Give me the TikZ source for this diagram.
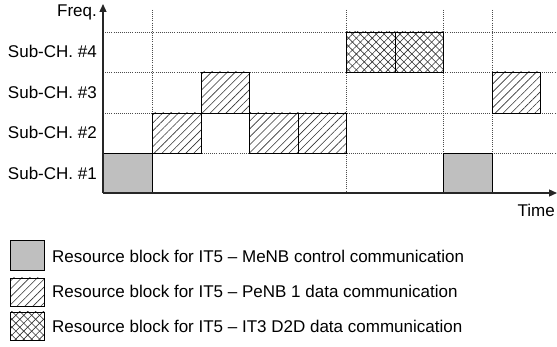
\documentclass[tikz,border=0pt]{standalone}
\usepackage{fontspec}
\setmainfont{Liberation Sans}
\usetikzlibrary{arrows.meta,patterns.meta}
\tikzset{
  lbl/.style={inner sep=0pt, font=\fontsize{17}{20}\selectfont},
  grid/.style={draw=black!70, line width=0.8pt, dash pattern=on 0.9pt off 1.2pt},
  axis/.style={draw=black!85, line width=1.3pt, -{Triangle[length=8pt,width=7pt]}},
  blk/.style={draw=black, line width=0.9pt},
  grayblk/.style={blk, fill=black!25},
  hatchblk/.style={blk, pattern={Lines[angle=45,distance=5.6pt,line width=0.6pt]}, pattern color=black!80},
  crossblk/.style={blk,
    preaction={pattern={Lines[angle=45,distance=5.6pt,line width=0.6pt]}, pattern color=black!80},
    pattern={Lines[angle=-45,distance=5.6pt,line width=0.6pt]}, pattern color=black!80},
}
\begin{document}
\begin{tikzpicture}[x=1pt,y=-1pt]
\useasboundingbox[fill=white] (0,0) rectangle (557,347);
% coordinates
\coordinate (O) at (103,193);
\coordinate (ytop) at (103,4);
\coordinate (xend) at (557,193);
% grid (dotted)
\foreach \yy in {32,72,113,153} \draw[grid] (103,\yy) -- (557,\yy);
\foreach \xx in {152,346,443,492} \draw[grid] (\xx,10) -- (\xx,193);
% blocks
% Sub-CH #1
\draw[grayblk] (103,153) rectangle (152,193);
\draw[grayblk] (443,153) rectangle (492,193);
% Sub-CH #2
\draw[hatchblk] (152,113) rectangle (201,153);
\draw[hatchblk] (249,113) rectangle (298,153);
\draw[hatchblk] (298,113) rectangle (346,153);
% Sub-CH #3
\draw[hatchblk] (201,72) rectangle (249,113);
\draw[hatchblk] (492,72) rectangle (540,113);
% Sub-CH #4
\draw[crossblk] (346,32) rectangle (395,72);
\draw[crossblk] (395,32) rectangle (443,72);
% axes
\draw[axis] (O) -- (ytop);
\draw[axis] (O) -- (xend);
% labels
\node[lbl, anchor=base east] (freq) at (97,17) {Freq.};
\node[lbl, anchor=base east] (time) at (555,217) {Time};
\node[lbl, anchor=base east] (s4) at (97,58) {Sub-CH. \#4};
\node[lbl, anchor=base east] (s3) at (97,98.5) {Sub-CH. \#3};
\node[lbl, anchor=base east] (s2) at (97,139) {Sub-CH. \#2};
\node[lbl, anchor=base east] (s1) at (97,179.5) {Sub-CH. \#1};
% legend
\draw[grayblk] (10,240) rectangle (44,270);
\draw[hatchblk] (10,278) rectangle (44,306);
\draw[crossblk] (10,312) rectangle (44,340);
\node[lbl, anchor=base west] (l1) at (52,263) {Resource block for IT5 \textendash{} MeNB control communication};
\node[lbl, anchor=base west] (l2) at (52,298) {Resource block for IT5 \textendash{} PeNB 1 data communication};
\node[lbl, anchor=base west] (l3) at (52,333) {Resource block for IT5 \textendash{} IT3 D2D data communication};
\end{tikzpicture}
\end{document}
